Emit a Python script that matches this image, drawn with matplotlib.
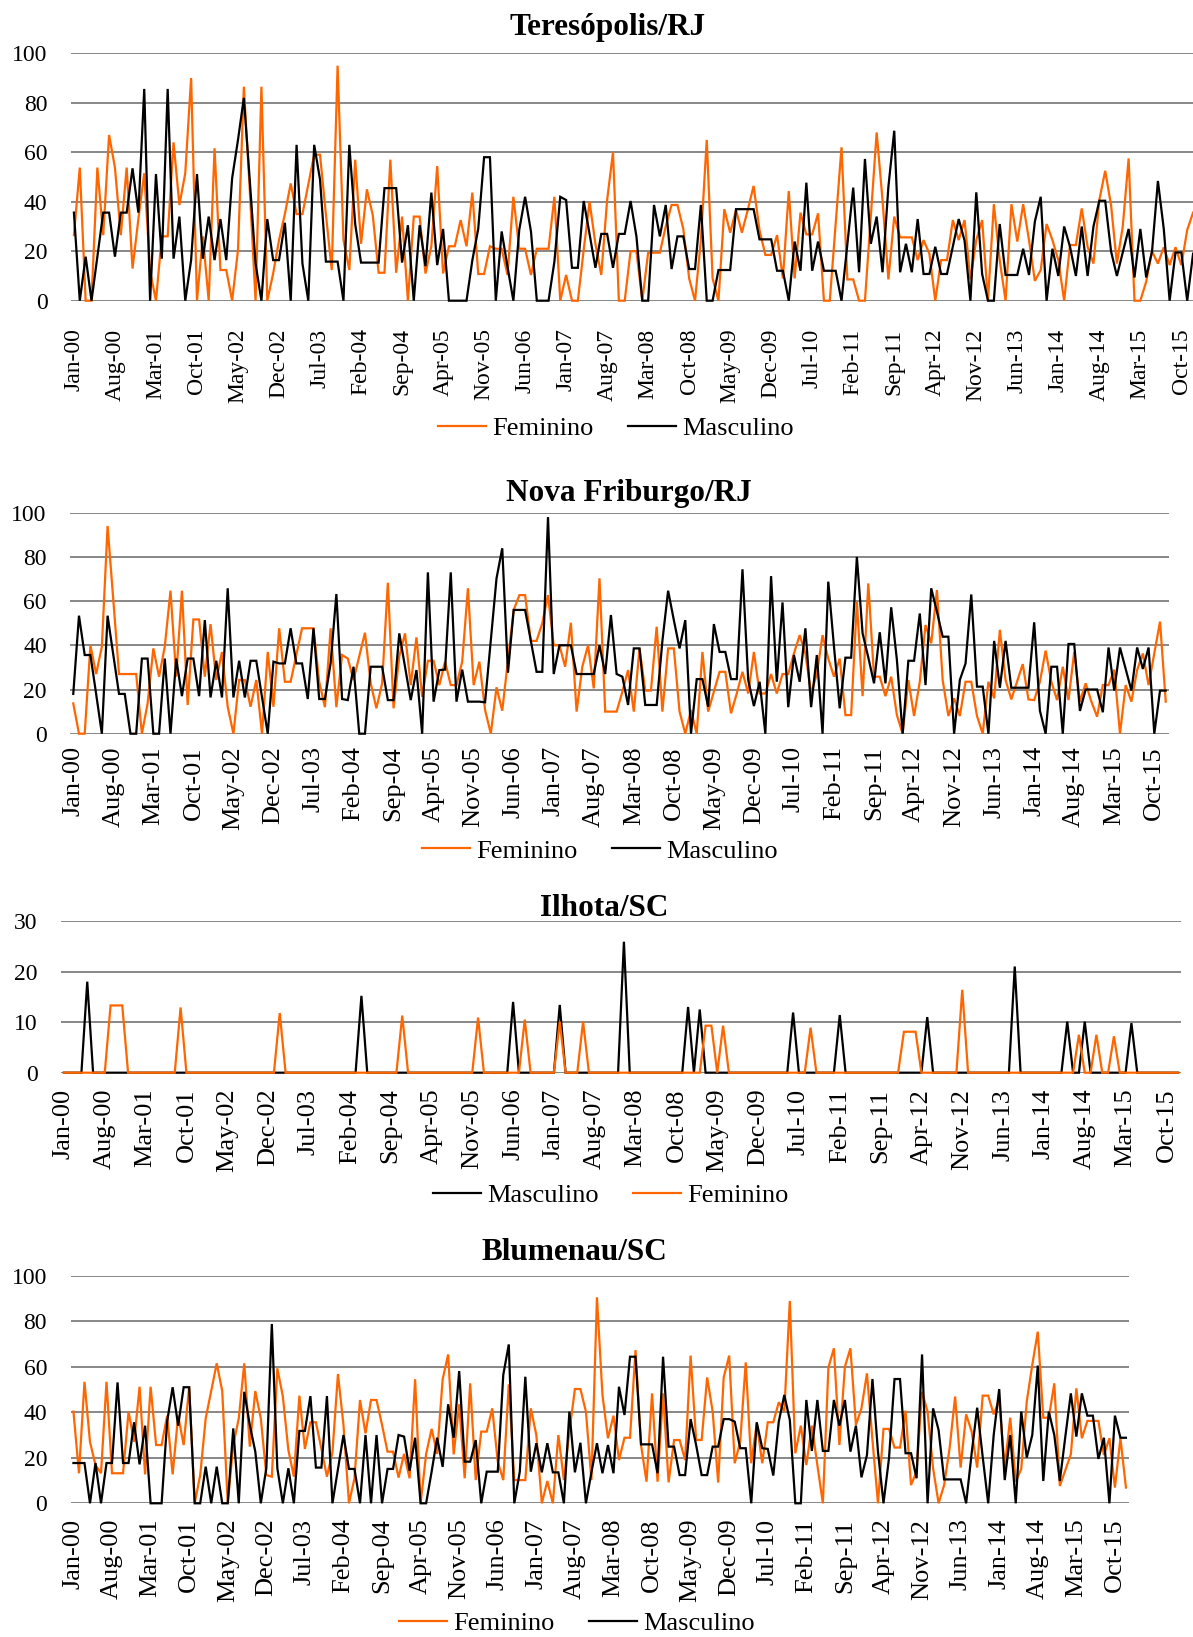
import matplotlib
matplotlib.use("Agg")
import matplotlib.pyplot as plt

plt.rcParams["font.family"] = ["Liberation Serif", "DejaVu Serif"]

# Monthly categories, Jan-2000 .. Dec-2015
month_names = ["Jan", "Feb", "Mar", "Apr", "May", "Jun",
               "Jul", "Aug", "Sep", "Oct", "Nov", "Dec"]
categories = [f"{m}-{y:02d}" for y in range(16) for m in month_names]

tick_labels = ["Jan-00", "Aug-00", "Mar-01", "Oct-01", "May-02", "Dec-02", "Jul-03",
               "Feb-04", "Sep-04", "Apr-05", "Nov-05", "Jun-06", "Jan-07", "Aug-07",
               "Mar-08", "Oct-08", "May-09", "Dec-09", "Jul-10", "Feb-11", "Sep-11",
               "Apr-12", "Nov-12", "Jun-13", "Jan-14", "Aug-14", "Mar-15", "Oct-15"]

# ---- Teresópolis/RJ ----
tere_fem = [
    26.5, 53.8, 0, 0, 53.8, 26.5, 67, 53.8, 26.5, 53.8, 13, 33,          # 2000
    51.5, 12, 0, 26, 26, 64, 38.7, 51.5, 90, 0, 26, 0,                   # 2001
    61.6, 12.4, 12.4, 0, 20.5, 86.5, 45, 0, 86.5, 0, 11, 24.5,           # 2002
    35, 47.4, 35, 35, 47, 59, 59, 35, 12.4, 95, 24.5, 12.4,              # 2003
    57, 23, 45, 34.6, 11.3, 11.3, 57, 11.3, 34, 0, 34, 34,               # 2004
    11, 22, 54.4, 11, 22, 22, 32.6, 22, 43.7, 10.8, 10.8, 22,            # 2005
    21, 21, 10.4, 42, 21, 21, 10.4, 21, 21, 21, 42, 0,                   # 2006
    10.4, 0, 0, 20.5, 40, 23, 10.4, 40.7, 60, 0, 0, 20,                  # 2007
    20, 0, 19.4, 19.4, 19.4, 30, 38.7, 38.7, 29, 9, 0, 24.5,             # 2008
    65, 9, 0, 37, 27.5, 36.7, 27.5, 36.7, 46.4, 28.6, 18.5, 18.5,        # 2009
    26.5, 9, 44.3, 9, 35.6, 26.8, 26.8, 35.3, 0, 0, 31, 62,              # 2010
    8.6, 8.6, 0, 0, 34, 68, 40.7, 8.6, 34, 25.6, 25.6, 25.6,             # 2011
    16.4, 24.5, 19, 0, 16.4, 16.4, 32.6, 24.5, 32.6, 8.6, 24.5, 32.6,    # 2012
    0, 39, 16.4, 0, 39, 23.9, 39, 24.5, 8, 12.4, 31, 24.5,               # 2013
    16.4, 0, 22.5, 22.5, 37.3, 21.8, 15, 40.7, 52.5, 38.7, 15, 30,       # 2014
    57.5, 0, 0, 7.7, 20, 15, 21.6, 14.4, 21.6, 14.4, 28.6, 35.6,         # 2015
]
tere_masc = [
    35.6, 0, 17.8, 0, 17.8, 35.6, 35.6, 17.8, 35.6, 35.6, 53.5, 35.6,
    85.6, 0, 51.2, 17, 85.6, 17, 34, 0, 16.4, 51.2, 17, 34,
    16.4, 33, 16.4, 49.5, 65, 82, 49, 15, 0, 33, 16.4, 16.4,
    31.5, 0, 63, 15, 0, 63, 49, 15.8, 15.8, 15.8, 0, 63,
    31, 15.4, 15.4, 15.4, 15.4, 45.5, 45.5, 45.5, 15.4, 30.5, 0, 30.5,
    14, 43.7, 14.4, 29, 0, 0, 0, 0, 16.4, 29, 58, 58,
    0, 28, 13.7, 0, 28.6, 42, 28, 0, 0, 0, 15.8, 42,
    40.7, 13.3, 13.3, 40.3, 27, 13.3, 27, 27, 13.3, 27, 27, 40.3,
    26, 0, 0, 38.7, 26, 38.7, 12.8, 26, 26, 12.8, 12.8, 38.7,
    0, 0, 12.4, 12.4, 12.4, 37, 37, 37, 37, 24.8, 24.8, 24.8,
    12.1, 12.1, 0, 23.9, 12.1, 47.7, 12.1, 23.9, 12.1, 12.1, 12.1, 0,
    23, 45.7, 11.5, 57.3, 23, 34, 11.5, 46, 68.7, 11.5, 23, 11.5,
    33, 10.8, 10.8, 21.8, 10.8, 10.8, 21.8, 33, 24.3, 0, 43.8, 10.8,
    0, 0, 31, 10.4, 10.4, 10.4, 21, 10.4, 32, 42, 0, 21,
    10, 30, 21.8, 10, 30, 10, 30, 40.4, 40.4, 20, 10, 19.5,
    29, 9.4, 29, 9.4, 20, 48.4, 29, 0, 19.5, 19.5, 0, 19,
]

# ---- Nova Friburgo/RJ ----
nf_fem = [
    13.7, 0, 0, 40, 27, 39.4, 94, 60.5, 27, 27, 27, 27,
    0, 13.7, 38.6, 25.8, 39.4, 64.7, 25.8, 64.7, 13, 51.7, 51.7, 25.8,
    49.6, 24.3, 37, 12.2, 0, 24.3, 24.3, 12.2, 24.3, 0, 37, 12.2,
    47.7, 23.5, 23.5, 35.6, 47.7, 47.7, 47.7, 23.5, 12, 47.7, 12, 35.6,
    34, 24.3, 35, 45.7, 22.8, 11.5, 22.8, 68.3, 11.5, 35, 45.4, 22,
    43.6, 16.7, 33, 33, 22, 32.6, 22, 22, 32.6, 65.8, 22, 32.6,
    10.7, 0, 21, 10.4, 33.3, 56, 62.7, 62.7, 42, 42, 50, 62.7,
    40, 40, 30.3, 50.2, 10, 30.3, 40, 20.5, 70.3, 10, 10, 10,
    19, 28.8, 10, 38.6, 19.5, 19.5, 48.4, 10, 38.6, 38.6, 10, 0,
    10.7, 0, 37, 10, 19, 28, 28, 9.2, 18.2, 28, 18.2, 37,
    18.2, 18.2, 27, 18.2, 27, 27, 36.3, 44.6, 36.3, 18.2, 27, 44.6,
    34, 25.8, 34, 8.4, 8.4, 59.7, 17, 68, 25.8, 25.8, 17, 25.8,
    8.4, 0, 24.3, 8, 23.5, 49.2, 40.9, 65, 24.3, 8, 16, 8,
    23.5, 23.5, 8, 0, 23.5, 16, 47, 24.3, 15.5, 23.5, 31.5, 15.5,
    15.2, 23.5, 37.6, 23.5, 15.2, 30.3, 15.2, 37, 14.5, 22.8, 14.5, 7.7,
    22, 22, 29, 0, 22, 14.5, 28.8, 36.3, 22, 36.3, 50.7, 14.5,
]
nf_masc = [
    18, 53.4, 35.6, 35.6, 18, 0, 53.4, 35.6, 18, 18, 0, 0,
    34, 34, 0, 0, 34, 0, 34, 17, 34, 34, 17, 51.4,
    16.4, 33, 16.4, 65.8, 16.4, 33, 16.4, 33, 33, 16.4, 0, 32.6,
    31.8, 31.8, 47.7, 31.8, 31.8, 15.7, 47.7, 15.7, 15.7, 32, 63.2, 15.7,
    15.2, 30.3, 0, 0, 30.3, 30.3, 30.3, 15.2, 15.2, 45.4, 30.3, 15.2,
    28.8, 0, 73, 14.5, 28.8, 29, 73, 14.5, 29, 14.5, 14.5, 14.5,
    14.2, 42.4, 70.3, 83.9, 27.6, 56, 56, 56, 42, 28, 28, 98,
    27, 40, 40, 40, 27, 27, 27, 27, 40, 27, 53.7, 27,
    25.8, 13, 38.6, 38.6, 13, 13, 13, 42, 64.7, 51.4, 38.6, 51.4,
    0, 24.7, 24.7, 12.2, 49.6, 37, 37, 24.7, 24.7, 74.4, 24.3, 12.5,
    23.5, 0, 71.3, 23.5, 59.4, 12, 35.6, 23.5, 47.7, 12, 35.6, 0,
    68.8, 39.4, 11.5, 34.4, 34.4, 80, 45.4, 34.5, 22.8, 45.9, 22.8, 57.2,
    33.3, 0, 33, 33, 54.4, 22, 65.8, 55.2, 43.9, 43.9, 0, 24.3,
    31.8, 63, 21.3, 21.3, 0, 42, 20.8, 42, 20.8, 20.8, 20.8, 20.8,
    50.4, 10.4, 0, 30.3, 30.3, 0, 40.6, 40.6, 10.3, 20, 20, 20,
    9.7, 39, 19.5, 39, 29.3, 19.5, 39, 29.3, 39, 0, 19.5, 19.5,
]

# ---- Ilhota/SC ----
ilh_masc = [
    0, 0, 0, 0, 18, 0, 0, 0, 0, 0, 0, 0,
    0, 0, 0, 0, 0, 0, 0, 0, 0, 0, 0, 0,
    0, 0, 0, 0, 0, 0, 0, 0, 0, 0, 0, 0,
    0, 0, 0, 0, 0, 0, 0, 0, 0, 0, 0, 0,
    0, 0, 0, 15.2, 0, 0, 0, 0, 0, 0, 0, 0,
    0, 0, 0, 0, 0, 0, 0, 0, 0, 0, 0, 0,
    0, 0, 0, 0, 0, 14, 0, 0, 0, 0, 0, 0,
    0, 13.4, 0, 0, 0, 0, 0, 0, 0, 0, 0, 0,
    25.9, 0, 0, 0, 0, 0, 0, 0, 0, 0, 0, 13,
    0, 12.5, 0, 0, 0, 0, 0, 0, 0, 0, 0, 0,
    0, 0, 0, 0, 0, 11.9, 0, 0, 0, 0, 0, 0,
    0, 11.4, 0, 0, 0, 0, 0, 0, 0, 0, 0, 0,
    0, 0, 0, 0, 11, 0, 0, 0, 0, 0, 0, 0,
    0, 0, 0, 0, 0, 0, 0, 21, 0, 0, 0, 0,
    0, 0, 0, 0, 10.1, 0, 0, 10.1, 0, 0, 0, 0,
    0, 0, 0, 9.8, 0, 0, 0, 0, 0, 0, 0, 0,
]
ilh_fem = [
    0, 0, 0, 0, 0, 0, 0, 0, 13.3, 13.3, 13.3, 0,
    0, 0, 0, 0, 0, 0, 0, 0, 12.9, 0, 0, 0,
    0, 0, 0, 0, 0, 0, 0, 0, 0, 0, 0, 0,
    0, 11.8, 0, 0, 0, 0, 0, 0, 0, 0, 0, 0,
    0, 0, 0, 0, 0, 0, 0, 0, 0, 0, 11.3, 0,
    0, 0, 0, 0, 0, 0, 0, 0, 0, 0, 0, 10.9,
    0, 0, 0, 0, 0, 0, 0, 10.5, 0, 0, 0, 0,
    0, 10.1, 0, 0, 0, 10.1, 0, 0, 0, 0, 0, 0,
    0, 0, 0, 0, 0, 0, 0, 0, 0, 0, 0, 0,
    0, 0, 9.3, 9.3, 0, 9.3, 0, 0, 0, 0, 0, 0,
    0, 0, 0, 0, 0, 0, 0, 0, 8.9, 0, 0, 0,
    0, 0, 0, 0, 0, 0, 0, 0, 0, 0, 0, 0,
    8.1, 8.1, 8.1, 0, 0, 0, 0, 0, 0, 0, 16.4, 0,
    0, 0, 0, 0, 0, 0, 0, 0, 0, 0, 0, 0,
    0, 0, 0, 0, 0, 0, 7.5, 0, 0, 7.5, 0, 0,
    7.2, 0, 0, 0, 0, 0, 0, 0, 0, 0, 0, 0,
]

# ---- Blumenau/SC ----
blu_fem = [
    40.3, 13.2, 53.4, 27, 16.8, 13.2, 53.4, 13.2, 13.2, 13.2, 40.3, 27,
    51.2, 12.7, 51.2, 25.6, 25.6, 38.5, 12.7, 38.5, 25.6, 51.2, 0, 12.4,
    37.3, 49.3, 61.5, 49.3, 0, 25.6, 37.3, 61.5, 24.9, 49.3, 37.3, 12.4,
    11.7, 59.3, 46.9, 23.4, 11.7, 47.3, 23.9, 35.6, 35.6, 23.9, 11.7, 22.4,
    56.8, 34.4, 0, 11, 45.4, 30.7, 45.4, 45.4, 34.4, 22.7, 22.7, 11.3,
    21.7, 11, 54.5, 0, 21.7, 32.7, 21.7, 54.5, 65.4, 21.5, 43.5, 11,
    52.7, 10.2, 31.5, 31.5, 41.7, 18.3, 10.2, 52.3, 10.2, 10.2, 10.2, 41.7,
    30, 0, 9.8, 0, 30, 10.2, 31.5, 50.2, 50.2, 40.3, 10.2, 90.5,
    47.6, 28.6, 38.5, 19, 28.8, 28.8, 67.3, 25.6, 9.5, 48.3, 9.5, 48.3,
    9.2, 27.8, 27.8, 19, 64.9, 27.8, 27.8, 55.3, 40.3, 9.1, 55.3, 64.9,
    17.6, 27.1, 61.9, 17.6, 35.1, 17.6, 35.6, 35.6, 44.4, 40.3, 88.9, 22,
    34.1, 16.8, 34.1, 16.8, 0, 59.6, 68.1, 25.6, 60, 68.1, 34.4, 41.7,
    57.1, 27.8, 0, 32.7, 32.7, 24.5, 24.5, 40.7, 8, 13.9, 49, 40.3,
    15.4, 0, 8, 24.2, 46.9, 15.7, 39.1, 31.5, 15.7, 47.3, 47.3, 39.1,
    45.4, 15.7, 37.6, 9.5, 15.1, 44.7, 60.8, 75.4, 37.6, 37.6, 52.7, 7.6,
    14.6, 21.5, 50.5, 28.6, 36.2, 36.2, 36.2, 21.2, 28.6, 6.9, 28.6, 6.9,
]
blu_masc = [
    17.7, 17.7, 17.7, 0, 17.7, 0, 17.7, 17.7, 53.1, 17.7, 17.7, 35.6,
    17.1, 34.1, 0, 0, 0, 35.9, 51, 34.1, 51, 51, 0, 0,
    16.1, 0, 16.1, 0, 0, 32.9, 0, 49, 34.4, 22.7, 0, 15.4,
    78.8, 15.4, 0, 15.4, 0, 31.8, 31.8, 47.1, 15.7, 15.7, 47.1, 0,
    15.1, 30, 15.1, 15.1, 0, 30, 0, 30, 0, 15.1, 15.1, 30,
    29.3, 14.3, 28.8, 0, 0, 13.9, 28.8, 16, 43.5, 28.8, 58.1, 18.3,
    18.3, 27.8, 0, 13.9, 13.9, 13.9, 56.4, 69.8, 0, 13.9, 55.6, 13.9,
    26.4, 13.6, 26.4, 13.6, 13.6, 0, 40.3, 13.6, 26.6, 0, 13.6, 26.4,
    13.2, 25.6, 13.2, 51.2, 38.8, 64.4, 64.4, 25.9, 25.9, 25.9, 13.2, 64.4,
    24.9, 24.9, 12.4, 12.4, 37, 25.6, 12.4, 12.4, 24.9, 24.9, 37, 37,
    35.9, 24.2, 24.2, 0, 35.6, 24.2, 23.9, 12.2, 35.9, 47.6, 36.6, 0,
    0, 45.4, 23, 45.4, 23, 23, 45.4, 34.1, 45.4, 22.7, 34.1, 11.4,
    21.2, 54.6, 22.7, 0, 19.8, 54.6, 54.6, 22, 22, 11, 65.4, 0,
    41.7, 32.2, 10.5, 10.5, 10.5, 10.5, 0, 22, 42, 20.5, 0, 30,
    50.2, 10.2, 30, 0, 40.3, 20.1, 30, 60.5, 9.8, 40.3, 30, 9.8,
    29.3, 48.3, 29.3, 48.3, 38.5, 38.5, 19.5, 28.8, 0, 38.5, 28.8, 28.8,
]

ORANGE = "#ff6600"
BLACK = "#000000"
GRID = "#878787"

W, H = 1193, 1637
fig = plt.figure(figsize=(W / 100, H / 100), dpi=100)


def px_rect(left, right, top, bottom):
    return [left / W, 1 - bottom / H, (right - left) / W, (bottom - top) / H]


panels = [
    dict(title="Teresópolis/RJ", rect=px_rect(71, 1196, 53.3, 300.7),
         ymax=100, ystep=20, order=[("Feminino", tere_fem, ORANGE), ("Masculino", tere_masc, BLACK)],
         title_xy=(608, 28), legend_xy=(616, 428), xpad=20, xfs=17),
    dict(title="Nova Friburgo/RJ", rect=px_rect(70.4, 1168.6, 512.7, 733.7),
         ymax=100, ystep=20, order=[("Feminino", nf_fem, ORANGE), ("Masculino", nf_masc, BLACK)],
         title_xy=(629, 494), legend_xy=(600, 851), xpad=9, xfs=19),
    dict(title="Ilhota/SC", rect=px_rect(61, 1181, 921, 1072.7),
         ymax=30, ystep=10, order=[("Masculino", ilh_masc, BLACK), ("Feminino", ilh_fem, ORANGE)],
         title_xy=(604, 908), legend_xy=(611, 1195), xpad=11.5, xfs=19),
    dict(title="Blumenau/SC", rect=px_rect(70.7, 1128.7, 1275.7, 1503.3),
         ymax=100, ystep=20, order=[("Feminino", blu_fem, ORANGE), ("Masculino", blu_masc, BLACK)],
         title_xy=(574, 1252), legend_xy=(577, 1623), xpad=11, xfs=19),
]

x = list(range(len(categories)))
tick_pos = [categories.index(t) for t in tick_labels]

for p in panels:
    ax = fig.add_axes(p["rect"])
    handles = []
    for z, (name, vals, col) in enumerate(p["order"]):
        ln, = ax.plot(x, vals, color=col, lw=1.6, solid_joinstyle="miter",
                      clip_on=False, zorder=3 + z, label=name)
        handles.append(ln)
    ax.set_xlim(-0.5, len(categories) - 0.5)
    ax.set_ylim(0, p["ymax"])
    ax.set_yticks(range(0, p["ymax"] + 1, p["ystep"]))
    ax.set_xticks(tick_pos)
    ax.set_xticklabels(tick_labels, rotation=90)
    ax.yaxis.grid(True, color=GRID, lw=1.4)
    ax.set_axisbelow(True)
    for s in ax.spines.values():
        s.set_visible(False)
    ax.tick_params(axis="y", length=0, pad=17, labelsize=17)
    ax.tick_params(axis="x", length=0, pad=p["xpad"], labelsize=p["xfs"])
    ax.set_facecolor("none")

    tx, ty = p["title_xy"]
    fig.text(tx / W, 1 - ty / H, p["title"], ha="center", va="center",
             fontsize=22.5, fontweight="bold")

    lx, ly = p["legend_xy"]
    fig.legend(handles=handles, labels=[h.get_label() for h in handles],
               loc="center", bbox_to_anchor=(lx / W, 1 - ly / H), ncol=2,
               frameon=False, fontsize=19, handlelength=1.8, handletextpad=0.25,
               columnspacing=1.3, borderaxespad=0, borderpad=0)

fig.savefig("out.png", dpi=100)
